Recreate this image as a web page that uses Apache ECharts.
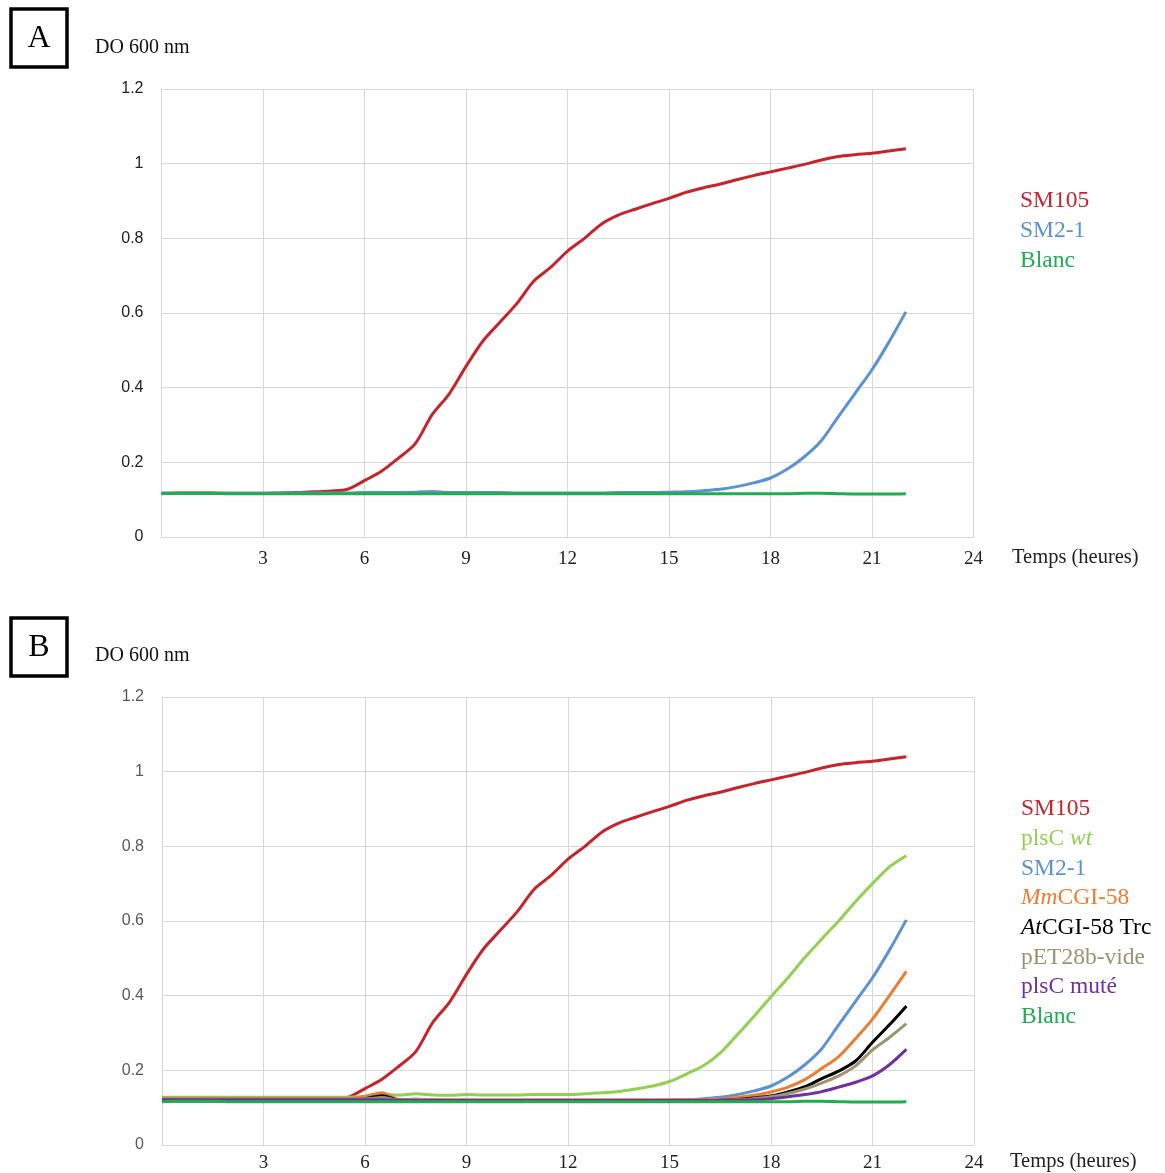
<!DOCTYPE html>
<html>
<head>
<meta charset="utf-8">
<script src="https://cdn.jsdelivr.net/npm/echarts@6/dist/echarts.min.js"></script>
<style>html,body{margin:0;padding:0;background:#fff}#c{width:1165px;height:1173px}</style>
</head>
<body>
<div id="c"></div>
<script>
// time axis (hours), half-hour steps 0..22
const hours = [0,0.5,1,1.5,2,2.5,3,3.5,4,4.5,5,5.5,6,6.5,7,7.5,8,8.5,9,9.5,10,10.5,11,11.5,12,12.5,13,13.5,14,14.5,15,15.5,16,16.5,17,17.5,18,18.5,19,19.5,20,20.5,21,21.5,22];
const xTicks = [0,3,6,9,12,15,18,21,24];
const yTicks = [0,0.2,0.4,0.6,0.8,1,1.2];

const sm105 = [0.117,0.118,0.118,0.118,0.117,0.117,0.117,0.118,0.119,0.121,0.123,0.128,0.151,0.176,0.211,0.25,0.328,0.383,0.457,0.525,0.575,0.625,0.685,0.722,0.766,0.80,0.838,0.862,0.878,0.893,0.907,0.923,0.935,0.945,0.957,0.968,0.978,0.988,0.998,1.01,1.019,1.024,1.028,1.034,1.04];
const sm21 = [0.117,0.117,0.117,0.117,0.117,0.117,0.117,0.117,0.118,0.118,0.118,0.118,0.119,0.119,0.119,0.12,0.122,0.119,0.119,0.119,0.119,0.118,0.118,0.118,0.118,0.118,0.118,0.119,0.119,0.119,0.12,0.121,0.124,0.128,0.135,0.145,0.158,0.182,0.215,0.258,0.322,0.385,0.448,0.522,0.603];
const blanc = [0.116,0.117,0.117,0.117,0.116,0.116,0.116,0.116,0.116,0.116,0.116,0.116,0.116,0.116,0.116,0.116,0.116,0.116,0.116,0.116,0.116,0.116,0.116,0.116,0.116,0.116,0.116,0.116,0.116,0.116,0.116,0.116,0.116,0.116,0.116,0.116,0.116,0.116,0.117,0.117,0.116,0.115,0.115,0.115,0.116];
const plscWt = [0.128,0.128,0.128,0.128,0.128,0.128,0.128,0.128,0.128,0.128,0.128,0.128,0.13,0.135,0.134,0.137,0.134,0.133,0.135,0.134,0.134,0.134,0.135,0.135,0.135,0.137,0.14,0.143,0.15,0.158,0.17,0.19,0.212,0.247,0.295,0.345,0.397,0.448,0.502,0.552,0.60,0.652,0.70,0.745,0.775];
const mmCgi = [0.125,0.125,0.125,0.125,0.125,0.125,0.125,0.125,0.125,0.125,0.125,0.125,0.13,0.14,0.122,0.121,0.121,0.121,0.121,0.121,0.121,0.121,0.121,0.121,0.121,0.121,0.121,0.121,0.121,0.121,0.121,0.121,0.121,0.123,0.127,0.133,0.142,0.155,0.175,0.205,0.237,0.285,0.337,0.40,0.465];
const atCgi = [0.122,0.122,0.122,0.122,0.122,0.122,0.122,0.122,0.122,0.122,0.122,0.122,0.124,0.132,0.12,0.119,0.119,0.119,0.119,0.119,0.119,0.119,0.119,0.119,0.119,0.119,0.119,0.119,0.119,0.119,0.119,0.119,0.119,0.12,0.122,0.126,0.131,0.142,0.156,0.178,0.198,0.225,0.275,0.322,0.372];
const pet28b = [0.124,0.124,0.124,0.124,0.124,0.124,0.124,0.124,0.124,0.124,0.124,0.124,0.124,0.127,0.121,0.123,0.12,0.12,0.12,0.12,0.12,0.12,0.12,0.12,0.12,0.12,0.12,0.12,0.12,0.12,0.12,0.12,0.12,0.12,0.121,0.124,0.129,0.138,0.15,0.166,0.185,0.212,0.255,0.288,0.325];
const plscMute = [0.121,0.121,0.121,0.121,0.121,0.121,0.121,0.121,0.121,0.121,0.121,0.121,0.121,0.121,0.12,0.119,0.119,0.119,0.119,0.119,0.119,0.119,0.119,0.119,0.119,0.119,0.119,0.119,0.119,0.119,0.119,0.119,0.119,0.119,0.12,0.121,0.124,0.129,0.135,0.143,0.155,0.168,0.185,0.215,0.256];

const legendA = ['SM105','SM2-1','Blanc'];
const legendB = ['SM105','plsC {i|wt}','SM2-1','{i|Mm}CGI-58','{i|At}CGI-58 Trc','pET28b-vide','plsC muté','Blanc'];

const C = {red:'#c8232b', blue:'#5b92d2', green:'#1fae4f', lgreen:'#92d050', orange:'#ed7d31', black:'#000000', olive:'#9c9470', purple:'#7030a0'};
const colorsA = [C.red, C.blue, C.green];
const colorsB = [C.red, C.lgreen, C.blue, C.orange, C.black, C.olive, C.purple, C.green];

const serif = '"Liberation Serif", "Times New Roman", serif';
const sans = '"Liberation Sans", Arial, sans-serif';

function pairs(vals){ return hours.map((h,i)=>[h, vals[i]]); }

const chart = echarts.init(document.getElementById('c'), null, {renderer:'canvas'});

function mkX(gi, margin){
  return {type:'value', gridIndex:gi, min:xTicks[0], max:xTicks[xTicks.length-1], interval:3,
    axisLine:{show:true, lineStyle:{color:'#d9d9d9', width:1}}, axisTick:{show:false},
    splitLine:{show:true, lineStyle:{color:'#d9d9d9', width:1}},
    axisLabel:{margin:margin, color:'#222', fontFamily:serif, fontSize:19,
      formatter:v=> v===0 ? '' : String(v)}};
}
function mkY(gi, col){
  return {type:'value', gridIndex:gi, min:yTicks[0], max:yTicks[yTicks.length-1], interval:0.2,
    axisLine:{show:true, lineStyle:{color:'#d9d9d9', width:1}}, axisTick:{show:false},
    splitLine:{show:true, lineStyle:{color:'#d9d9d9', width:1}},
    axisLabel:{margin:18, color:col, fontFamily:sans, fontSize:16,
      formatter:v=> String(Math.round(v*10)/10)}};
}
function line(name, vals, color, xi){
  return {type:'line', name:name, xAxisIndex:xi, yAxisIndex:xi, data:pairs(vals), smooth:0.3,
    showSymbol:false, symbol:'none', lineStyle:{color:color, width:3}, itemStyle:{color:color}, z:2, animation:false};
}

const graphics = [];
function box(y, letter){
  graphics.push({type:'rect', shape:{x:11, y:y, width:56, height:58}, style:{fill:'#fff', stroke:'#000', lineWidth:3.5}});
  graphics.push({type:'text', x:39, y:y+30, style:{text:letter, font:'32px '+serif, fill:'#000', textAlign:'center', textVerticalAlign:'middle', verticalAlign:'middle'}});
}
function txt(x, y, s, size, color, align){
  graphics.push({type:'text', x:x, y:y, style:{text:s, font:size+'px '+serif, fill:color||'#000', textAlign:align||'left', textVerticalAlign:'middle', verticalAlign:'middle'}});
}
function legendText(x, y, s, color){
  graphics.push({type:'text', x:x, y:y, style:{text:s, font:'23.5px '+serif, fill:color, textAlign:'left', textVerticalAlign:'middle', verticalAlign:'middle',
    rich:{i:{fontStyle:'italic', fontSize:23.5, fontFamily:serif, fill:color}}}});
}
box(9, 'A');
box(618, 'B');
txt(95, 48, 'DO 600 nm', 20, '#111');
txt(95, 656, 'DO 600 nm', 20, '#111');
txt(1012, 558, 'Temps (heures)', 20.5, '#222');
txt(1010, 1162, 'Temps (heures)', 20.5, '#222');
legendA.forEach((s,i)=>legendText(1020, 201 + i*30, s, colorsA[i]));
legendB.forEach((s,i)=>legendText(1021, 809 + i*29.7, s, colorsB[i]));

const option = {
  backgroundColor:'#fff',
  animation:false,
  grid:[
    {left:161.5, width:812, top:89, height:448, containLabel:false},
    {left:162, width:812, top:697, height:448, containLabel:false}
  ],
  xAxis:[mkX(0, 13), mkX(1, 9)],
  yAxis:[mkY(0, '#222'), mkY(1, '#595959')],
  series:[
    line('SM105', sm105, C.red, 0),
    line('SM2-1', sm21, C.blue, 0),
    line('Blanc', blanc, C.green, 0),
    line('SM105', sm105, C.red, 1),
    line('plsC wt', plscWt, C.lgreen, 1),
    line('SM2-1', sm21, C.blue, 1),
    line('MmCGI-58', mmCgi, C.orange, 1),
    line('AtCGI-58 Trc', atCgi, C.black, 1),
    line('pET28b-vide', pet28b, C.olive, 1),
    line('plsC muté', plscMute, C.purple, 1),
    line('Blanc', blanc, C.green, 1)
  ],
  graphic:{elements:graphics}
};
chart.setOption(option);
</script>
</body>
</html>
